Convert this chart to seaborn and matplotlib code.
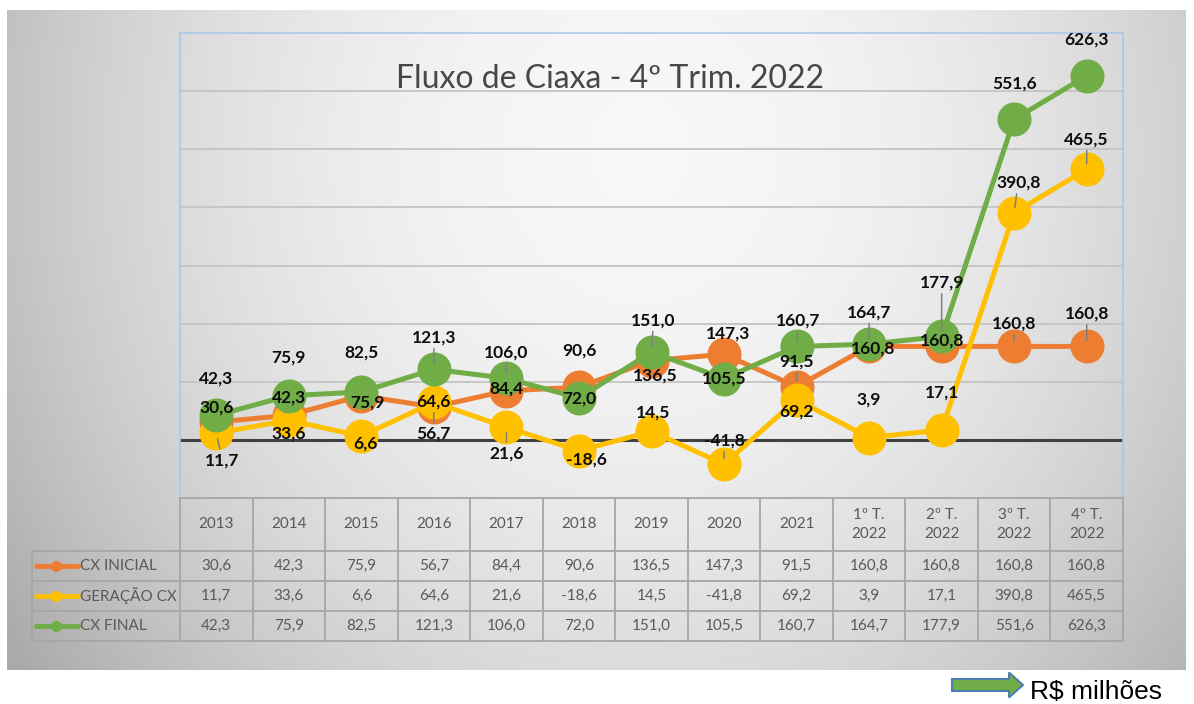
import matplotlib
matplotlib.use("Agg")
import matplotlib.pyplot as plt
from matplotlib.lines import Line2D
from matplotlib.patches import FancyArrow
import numpy as np
import pandas as pd
import seaborn as sns

# Dados (R$ milhões)
categorias = ["2013", "2014", "2015", "2016", "2017", "2018", "2019", "2020",
              "2021", "1º T.\n2022", "2º T.\n2022", "3º T.\n2022", "4º T.\n2022"]
cx_inicial = [30.6, 42.3, 75.9, 56.7, 84.4, 90.6, 136.5, 147.3, 91.5, 160.8, 160.8, 160.8, 160.8]
geracao_cx = [11.7, 33.6, 6.6, 64.6, 21.6, -18.6, 14.5, -41.8, 69.2, 3.9, 17.1, 390.8, 465.5]
cx_final = [42.3, 75.9, 82.5, 121.3, 106.0, 72.0, 151.0, 105.5, 160.7, 164.7, 177.9, 551.6, 626.3]
series = ["CX INICIAL", "GERAÇÃO CX", "CX FINAL"]

# deslocamento dos rótulos (pixels, y para cima) e linha de chamada - só estilo
desloc = {
    "CX INICIAL": [(0, 15, 0), (0, 18, 0), (6, -7, 0), (0, -27, 1), (0, 2, 0), (0, 37, 0),
                   (4, -15, 0), (4, 21, 0), (0, 25, 1), (4, -2, 0), (0, 6, 0),
                   (0, 23, 1), (0, 33, 1)],
    "GERAÇÃO CX": [(6, -27, 1), (0, -13, 0), (4, -7, 0), (0, 1, 0), (0, -26, 1), (7, -9, 0),
                   (2, 19, 0), (0, 24, 1), (0, -12, 0), (0, 38, 0), (0, 37, 0),
                   (4, 30, 1), (0, 30, 1)],
    "CX FINAL": [(0, 37, 0), (0, 38, 0), (0, 39, 0), (0, 32, 1), (0, 26, 1), (0, 0, 0),
                 (2, 32, 1), (0, 0, 0), (2, 26, 1), (0, 32, 1), (0, 54, 1),
                 (0, 36, 0), (0, 36, 0)],
}

cores = {"CX INICIAL": "#ED7D31", "GERAÇÃO CX": "#FFC000", "CX FINAL": "#70AD47"}

df = pd.DataFrame({
    "pos": list(range(len(categorias))) * 3,
    "valor": cx_inicial + geracao_cx + cx_final,
    "serie": np.repeat(series, len(categorias)),
})

sns.set_theme(style="white")
plt.rcParams["font.family"] = ["Lato", "DejaVu Sans"]

W, H = 1194, 704
fig = plt.figure(figsize=(W / 100, H / 100), dpi=100)
fig.patch.set_facecolor("white")

# fundo cinza com degradê
px0, px1, py0, py1 = 7, 1186, 10, 670
bg = fig.add_axes([px0 / W, 1 - py1 / H, (px1 - px0) / W, (py1 - py0) / H])
xx, yy = np.meshgrid(np.arange(px0, px1), np.arange(py0, py1))
r = np.sqrt(((xx - 640) / 640) ** 2 + ((yy - 150) / 720) ** 2)
g = 0.97 - (0.97 - 0.76) * np.clip(r, 0, 1.2) ** 2
bg.imshow(np.dstack([g, g, g]), aspect="auto", extent=[0, 1, 0, 1])
bg.set_axis_off()

# área do gráfico
al, ar, at, ab = 180, 1123, 33, 498
ax = fig.add_axes([al / W, 1 - ab / H, (ar - al) / W, (ab - at) / H])
ax.patch.set_alpha(0)

sns.lineplot(data=df, x="pos", y="valor", hue="serie", hue_order=series,
             palette=cores, marker="o", markersize=24.5, linewidth=3.6,
             markeredgewidth=0, sort=False, legend=False, ax=ax, zorder=3)

ax.set_xlim(-0.5, len(categorias) - 0.5)
ax.set_ylim(-100, 700)
for v in range(100, 700, 100):
    ax.axhline(v, color="#c4c4c4", lw=1.3, zorder=1)
ax.axhline(0, color="#404040", lw=2.2, zorder=2)
ax.set_xticks([])
ax.set_yticks([])
ax.set_xlabel("")
ax.set_ylabel("")
for s in ax.spines.values():
    s.set_color("#a9c8e8")
    s.set_linewidth(1.2)
ax.spines["bottom"].set_visible(False)

for nome, vals in zip(series, [cx_inicial, geracao_cx, cx_final]):
    for i, v in enumerate(vals):
        dx, dy, chamada = desloc[nome][i]
        seta = dict(arrowstyle="-", color="#7f7f7f", lw=1.1, shrinkA=0, shrinkB=4) if chamada else None
        ax.annotate(f"{v:.1f}".replace(".", ","), (i, v), xytext=(dx, dy),
                    textcoords="offset pixels", ha="center", va="center",
                    fontsize=12.5, fontweight="bold", color="#0d0d0d", zorder=5,
                    arrowprops=seta)

ax.text((610 - al) / (ar - al), 0.9, "Fluxo de Ciaxa - 4º Trim. 2022", transform=ax.transAxes,
        ha="center", va="center", fontsize=23, color="#474747")

# tabela de dados
tb = fig.add_axes([0, 0, 1, 1])
tb.set_xlim(0, W)
tb.set_ylim(H, 0)
tb.set_axis_off()
tb.patch.set_alpha(0)

col_w = (ar - al) / len(categorias)
linhas = [498, 551, 581, 611, 641]
lc = "#a6a6a6"
tc = "#595959"
tb.plot([al, ar], [linhas[0], linhas[0]], color=lc, lw=1.3)
for y in linhas[1:]:
    tb.plot([32, ar], [y, y], color=lc, lw=1.3)
tb.plot([32, 32], [linhas[1], linhas[-1]], color=lc, lw=1.3)
for k in range(len(categorias) + 1):
    x = al + k * col_w
    tb.plot([x, x], [linhas[0], linhas[-1]], color=lc, lw=1.3)

for k, c in enumerate(categorias):
    tb.text(al + (k + 0.5) * col_w, (linhas[0] + linhas[1]) / 2, c,
            ha="center", va="center", fontsize=11, color=tc, linespacing=1.5)

for j, (nome, vals) in enumerate(zip(series, [cx_inicial, geracao_cx, cx_final])):
    yc = (linhas[j + 1] + linhas[j + 2]) / 2
    tb.add_line(Line2D([36, 78], [yc, yc], color=cores[nome], lw=3.5,
                       solid_capstyle="round"))
    tb.plot([56], [yc], "o", color=cores[nome], ms=7)
    tb.text(80, yc, nome, ha="left", va="center", fontsize=11, color=tc)
    for k, v in enumerate(vals):
        tb.text(al + (k + 0.5) * col_w, yc, f"{v:.1f}".replace(".", ","),
                ha="center", va="center", fontsize=11, color=tc)

# seta e unidade
tb.add_patch(FancyArrow(952, 685, 57, 0, width=12, head_width=25, head_length=14,
                        length_includes_head=False, facecolor="#70AD47",
                        edgecolor="#4f7fae", lw=1.5))
tb.text(1030, 692, "R$ milhões", ha="left", va="center", fontsize=19,
        color="black", family="Liberation Sans")

fig.savefig("out.png", dpi=100)
